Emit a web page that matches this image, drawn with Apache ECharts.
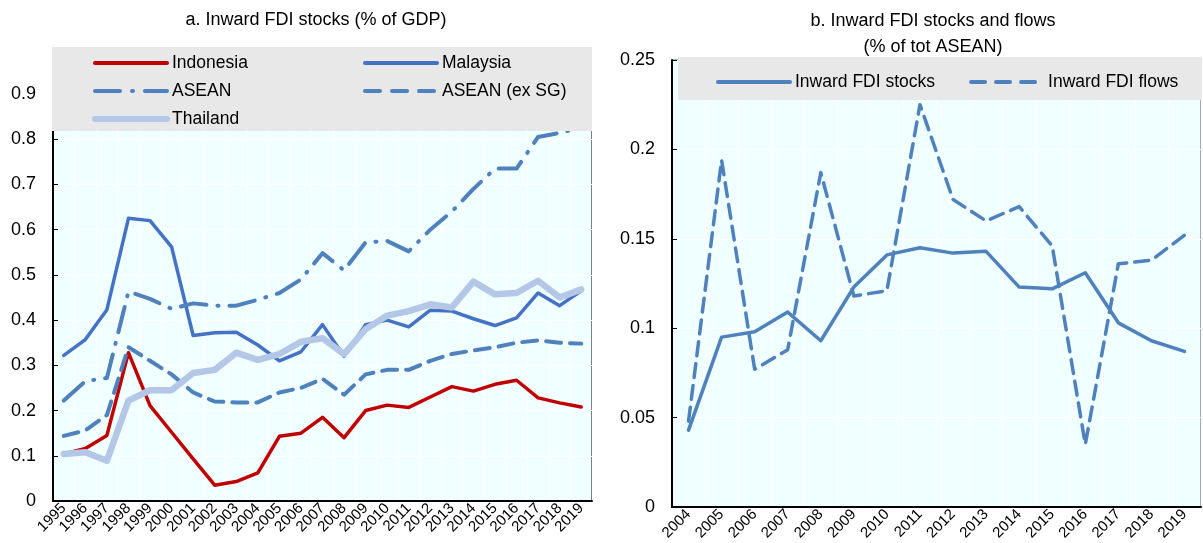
<!DOCTYPE html>
<html>
<head>
<meta charset="utf-8">
<script src="https://cdn.jsdelivr.net/npm/echarts@6/dist/echarts.min.js"></script>
<style>
html, body { margin: 0; padding: 0; background: #fff; }
#chart { width: 1203px; height: 543px; }
</style>
</head>
<body>
<div id="chart"></div>
<script>
// panel a: inward FDI stocks, % of GDP
var yearsA = ['1995', '1996', '1997', '1998', '1999', '2000', '2001', '2002', '2003', '2004', '2005', '2006', '2007',
    '2008', '2009', '2010', '2011', '2012', '2013', '2014', '2015', '2016', '2017', '2018', '2019'];
var indonesia = [0.104, 0.116, 0.145, 0.328, 0.211, 0.152, 0.093, 0.035, 0.043, 0.062, 0.143, 0.15, 0.185,
    0.14, 0.2, 0.212, 0.207, 0.23, 0.253, 0.243, 0.258, 0.267, 0.228, 0.217, 0.208];
var malaysia = [0.322, 0.357, 0.423, 0.625, 0.62, 0.562, 0.366, 0.372, 0.373, 0.345, 0.31, 0.33, 0.39,
    0.32, 0.39, 0.4, 0.385, 0.422, 0.42, 0.403, 0.388, 0.405, 0.46, 0.432, 0.465];
var asean = [0.222, 0.265, 0.272, 0.463, 0.447, 0.425, 0.437, 0.432, 0.432, 0.445, 0.46, 0.49, 0.548,
    0.51, 0.572, 0.575, 0.552, 0.6, 0.64, 0.69, 0.735, 0.735, 0.805, 0.814, 0.826];
var aseanExSG = [0.144, 0.156, 0.19, 0.34, 0.31, 0.28, 0.24, 0.22, 0.218, 0.218, 0.24, 0.25, 0.27,
    0.235, 0.28, 0.29, 0.29, 0.31, 0.325, 0.333, 0.34, 0.35, 0.355, 0.35, 0.348];
var thailand = [0.104, 0.108, 0.089, 0.222, 0.245, 0.245, 0.283, 0.29, 0.328, 0.312, 0.325, 0.352, 0.36,
    0.325, 0.38, 0.41, 0.42, 0.435, 0.428, 0.485, 0.457, 0.46, 0.487, 0.45, 0.468];

// panel b: share of total ASEAN
var yearsB = ['2004', '2005', '2006', '2007', '2008', '2009', '2010', '2011', '2012', '2013', '2014', '2015',
    '2016', '2017', '2018', '2019'];
var fdiStocks = [0.043, 0.095, 0.098, 0.109, 0.093, 0.123, 0.141, 0.145, 0.142, 0.143, 0.123, 0.122,
    0.131, 0.103, 0.093, 0.087];
var fdiFlows = [0.048, 0.194, 0.077, 0.088, 0.187, 0.118, 0.121, 0.225, 0.172, 0.16, 0.168, 0.146,
    0.035, 0.136, 0.138, 0.152];

var FONT = '"Liberation Sans Narrow", "Liberation Sans", Arial, sans-serif';
var blue = '#4472C4';
var steel = '#4F81BD';

function xAxisOf(idx, years) {
    return {
        type: 'category',
        gridIndex: idx,
        data: years,
        boundaryGap: true,
        axisLine: { lineStyle: { color: '#000', width: 2 } },
        axisTick: { inside: true, length: 5, lineStyle: { color: '#000' } },
        axisLabel: { rotate: 45, interval: 0, margin: 5, color: '#000', fontSize: 15, fontFamily: FONT },
        splitLine: { show: true, lineStyle: { color: '#fff', width: 1 } }
    };
}
function yAxisOf(idx, max, step) {
    return {
        type: 'value',
        gridIndex: idx,
        min: 0, max: max, interval: step,
        axisLine: { show: true, lineStyle: { color: '#000', width: 2 } },
        axisTick: { show: true, inside: true, length: 5, lineStyle: { color: '#000' } },
        axisLabel: { margin: 17, color: '#000', fontSize: 18, fontFamily: FONT },
        splitLine: { show: true, lineStyle: { color: '#fff', width: 1 } }
    };
}
function lineOf(name, xi, data, color, width, type) {
    return {
        name: name, type: 'line', xAxisIndex: xi, yAxisIndex: xi,
        data: data, symbol: 'none', z: 2,
        lineStyle: { color: color, width: width, type: type || 'solid', cap: 'round', join: 'round' },
        itemStyle: { color: color }
    };
}

function legendOf(left, top, orient, gap, items) {
    return {
        left: left, top: top, orient: orient, itemGap: gap,
        itemWidth: 72, itemHeight: 14, z: 20,
        itemStyle: { opacity: 0 },
        textStyle: { color: '#000', fontSize: 17.5, fontFamily: FONT },
        data: items.map(function (it) {
            return { name: it[0], lineStyle: { width: it[1], type: it[2] || 'solid', cap: 'round' } };
        })
    };
}

var myChart = echarts.init(document.getElementById('chart'));
var option = {
    backgroundColor: '#fff',
    animation: false,
    title: [{
        text: 'a. Inward FDI stocks (% of GDP)', left: 311, top: 6, textAlign: 'center',
        textStyle: { color: '#000', fontSize: 18, fontWeight: 'normal', fontFamily: FONT }
    }, {
        text: 'b. Inward FDI stocks and flows\n(% of tot ASEAN)', left: 928, top: 3, textAlign: 'center',
        textStyle: { color: '#000', fontSize: 18, fontWeight: 'normal', fontFamily: FONT, lineHeight: 26 }
    }],
    graphic: [
        { type: 'rect', shape: { x: 52, y: 47, width: 540, height: 84 }, style: { fill: '#E8E8E8' }, z: 10 },
        { type: 'rect', shape: { x: 678, y: 57, width: 524, height: 43 }, style: { fill: '#E8E8E8' }, z: 10 }
    ],
    legend: [
        legendOf(87, 49, 'vertical', 10, [['Indonesia', 4], ['ASEAN', 4, [25, 12, 1, 12]], ['Thailand', 6]]),
        legendOf(358, 49, 'vertical', 10, [['Malaysia', 4], ['ASEAN (ex SG)', 4, [15, 12]]]),
        legendOf(711, 68, 'horizontal', 34, [['Inward FDI stocks', 4], ['Inward FDI flows', 4, [14, 11]]])
    ],
    grid: [
        { left: 53, right: 611, top: 94, bottom: 42, outerBoundsMode: 'none', show: true,
            backgroundColor: '#F0FFFF', borderWidth: 1, borderColor: '#000' },
        { left: 672, right: 2, top: 60, bottom: 36, outerBoundsMode: 'none', show: true,
            backgroundColor: '#F0FFFF', borderWidth: 1, borderColor: '#555' }
    ],
    xAxis: [xAxisOf(0, yearsA), xAxisOf(1, yearsB)],
    yAxis: [yAxisOf(0, 0.9, 0.1), yAxisOf(1, 0.25, 0.05)],
    series: [
        lineOf('Indonesia', 0, indonesia, '#C00000', 3.5),
        lineOf('Malaysia', 0, malaysia, blue, 3.5),
        lineOf('ASEAN', 0, asean, steel, 4, [26, 11, 1, 11]),
        lineOf('ASEAN (ex SG)', 0, aseanExSG, steel, 4, [15, 9]),
        lineOf('Thailand', 0, thailand, '#B4C7E7', 6.5),
        lineOf('Inward FDI stocks', 1, fdiStocks, steel, 3.5),
        lineOf('Inward FDI flows', 1, fdiFlows, steel, 3.5, [14, 8])
    ]
};
myChart.setOption(option);
</script>
</body>
</html>
